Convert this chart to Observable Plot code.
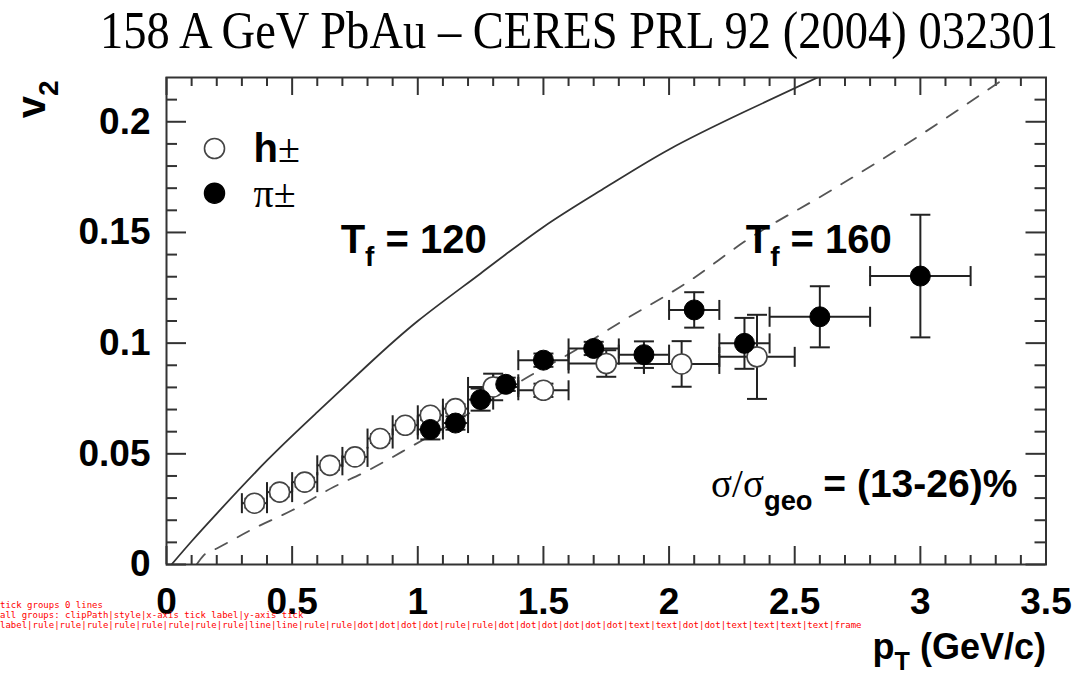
<!DOCTYPE html>
<html><head><meta charset="utf-8">
<script src="https://cdn.jsdelivr.net/npm/d3@7"></script>
<script src="https://cdn.jsdelivr.net/npm/@observablehq/plot@0.6"></script>
<style>
body{margin:0;background:#fff;}
#title{position:relative;height:58px;width:1080px;}
#title span{position:absolute;left:100px;top:5px;font:52px "Liberation Serif","Times New Roman",serif;line-height:52px;white-space:nowrap;transform:scaleX(0.895);transform-origin:0 0;color:#000;}
#dbg{position:absolute;left:0;top:600px;width:800px;font:9px monospace;white-space:pre-wrap;color:red;}
</style></head><body>
<div id="title"><span>158 A GeV PbAu – CERES PRL 92 (2004) 032301</span></div>
<div id="chart"></div>
<div id="dbg"></div>
<script>
// h± (open circles)
const hPt   = [0.35, 0.45, 0.55, 0.65, 0.75, 0.85, 0.95, 1.05, 1.15, 1.3, 1.5, 1.75, 2.05, 2.35];
const hV2   = [0.0277, 0.0327, 0.0372, 0.0448, 0.0486, 0.0569, 0.0629, 0.0674, 0.0704, 0.0802, 0.0787, 0.0908, 0.0906, 0.0938];
const hPtErr= [0.05, 0.05, 0.05, 0.05, 0.05, 0.05, 0.05, 0.05, 0.05, 0.1, 0.1, 0.15, 0.15, 0.15];
const hV2Err= [0.002, 0.002, 0.002, 0.002, 0.002, 0.002, 0.002, 0.002, 0.002, 0.006, 0.003, 0.006, 0.0103, 0.019];
// π± (filled circles)
const piPt   = [1.05, 1.15, 1.25, 1.35, 1.5, 1.7, 1.9, 2.1, 2.3, 2.6, 3.0];
const piV2   = [0.0610, 0.0639, 0.0745, 0.0814, 0.0923, 0.0976, 0.0948, 0.1150, 0.0999, 0.1119, 0.1303];
const piPtErr= [0.05, 0.05, 0.05, 0.05, 0.1, 0.1, 0.1, 0.1, 0.1, 0.2, 0.2];
const piV2Err= [0.0045, 0.003, 0.005, 0.003, 0.003, 0.003, 0.006, 0.008, 0.0115, 0.0138, 0.0277];
// hydro curves
const t120Pt = [0.02, 0.1, 0.2, 0.4, 0.6, 0.8, 1.0, 1.25, 1.5, 1.75, 2.0, 2.3, 2.6];
const t120V2 = [0, 0.0105, 0.023, 0.047, 0.0688, 0.090, 0.110, 0.1315, 0.1525, 0.1705, 0.1875, 0.2045, 0.2205];
const t160Pt = [0.12, 0.147, 0.2, 0.355, 0.5, 0.665, 0.785, 0.985, 1.2, 1.45, 1.6, 1.8, 2.08, 2.31, 2.645, 3.0, 3.34];
const t160V2 = [0, 0.004, 0.0072, 0.0167, 0.0245, 0.035, 0.0415, 0.054, 0.068, 0.0855, 0.095, 0.109, 0.128, 0.1466, 0.169, 0.194, 0.22];
// ticks
const xMajor = [0, 0.5, 1, 1.5, 2, 2.5, 3, 3.5];
const xMajorLabels = ["0", "0.5", "1", "1.5", "2", "2.5", "3", "3.5"];
const xMinor = [0.1,0.2,0.3,0.4,0.6,0.7,0.8,0.9,1.1,1.2,1.3,1.4,1.6,1.7,1.8,1.9,2.1,2.2,2.3,2.4,2.6,2.7,2.8,2.9,3.1,3.2,3.3,3.4];
const yMajor = [0, 0.05, 0.1, 0.15, 0.2];
const yMajorLabels = ["0", "0.05", "0.1", "0.15", "0.2"];
const yMinor = [0.01,0.02,0.03,0.04,0.06,0.07,0.08,0.09,0.11,0.12,0.13,0.14,0.16,0.17,0.18,0.19,0.21];
// texts
const legendLabels = ["h~{±}", "~{π±}"];
const curveLabels = ["T_{f} = 120", "T_{f} = 160"];
const curveLabelPt = [0.693, 2.305];
const curveLabelV2 = [0.1407, 0.1409];
const centralityLabel = ["~{σ/σ}_{geo} = (13-26)%"];
const centralityPt = [3.386];
const centralityV2 = [0.0305];
const xTitle = "p_{T} (GeV/c)";
const yTitle = "v_{2}";

const hData = hPt.map((x, i) => ({x, y: hV2[i], xe: hPtErr[i], ye: hV2Err[i]}));
const piData = piPt.map((x, i) => ({x, y: piV2[i], xe: piPtErr[i], ye: piV2Err[i]}));
const t120 = t120Pt.map((x, i) => ({x, y: t120V2[i]}));
const t160 = t160Pt.map((x, i) => ({x, y: t160V2[i]}));
const curveText = curveLabels.map((t, i) => ({t, x: curveLabelPt[i], y: curveLabelV2[i]}));
const centralityText = centralityLabel.map((t, i) => ({t, x: centralityPt[i], y: centralityV2[i]}));

// layout
const W = 1080, H = 616, mT = 19, mB = 110, mL = 166, mR = 34.5;
const xDomain = [0, 3.5], yDomain = [0, 0.22];
const frameW = W - mL - mR, frameH = H - mT - mB;
const xPerPx = (xDomain[1] - xDomain[0]) / frameW;
const yPerPx = (yDomain[1] - yDomain[0]) / frameH;

const vCap = {draw(ctx) { ctx.moveTo(0, -10); ctx.lineTo(0, 10); }};
const hCap = {draw(ctx) { ctx.moveTo(-10, 0); ctx.lineTo(10, 0); }};
const ink = "#222";
const axisInk = "#333";

function errorMarks(data) {
  return [
    Plot.ruleY(data, {y: "y", x1: d => d.x - d.xe, x2: d => d.x + d.xe, stroke: ink, strokeWidth: 2}),
    Plot.ruleX(data, {x: "x", y1: d => d.y - d.ye, y2: d => d.y + d.ye, stroke: ink, strokeWidth: 2}),
    Plot.dot(data, {x: d => d.x - d.xe, y: "y", symbol: vCap, stroke: ink, strokeWidth: 2, fill: "none"}),
    Plot.dot(data, {x: d => d.x + d.xe, y: "y", symbol: vCap, stroke: ink, strokeWidth: 2, fill: "none"}),
    Plot.dot(data, {x: "x", y: d => d.y - d.ye, symbol: hCap, stroke: ink, strokeWidth: 2, fill: "none"}),
    Plot.dot(data, {x: "x", y: d => d.y + d.ye, symbol: hCap, stroke: ink, strokeWidth: 2, fill: "none"})
  ];
}
function tickMarks() {
  const o = {stroke: axisInk, strokeWidth: 2, ariaLabel: "frame tick"};
  const xt = (vals, len) => [
    Plot.ruleX(vals, {x: d => d, y1: () => yDomain[0], y2: () => yDomain[0] + len * yPerPx, ...o}),
    Plot.ruleX(vals, {x: d => d, y1: () => yDomain[1] - len * yPerPx, y2: () => yDomain[1], ...o})
  ];
  const yt = (vals, len) => [
    Plot.ruleY(vals, {y: d => d, x1: () => xDomain[0], x2: () => xDomain[0] + len * xPerPx, ...o}),
    Plot.ruleY(vals, {y: d => d, x1: () => xDomain[1] - len * xPerPx, x2: () => xDomain[1], ...o})
  ];
  return [...xt(xMajor, 18), ...xt(xMinor, 9), ...yt(yMajor, 20), ...yt(yMinor, 11)];
}

const out = [];
const chart = Plot.plot({
  width: W,
  height: H,
  marginTop: mT,
  marginBottom: mB,
  marginLeft: mL,
  marginRight: mR,
  style: {fontFamily: "'Liberation Sans', Arial, Helvetica, sans-serif", background: "white", color: "black"},
  x: {domain: xDomain},
  y: {domain: yDomain},
  marks: [
    Plot.axisX(xMajor, {anchor: "bottom", tickSize: 0, tickPadding: 23, tickFormat: (d, i) => xMajorLabels[i], fontSize: 37, fontWeight: "bold", label: null}),
    Plot.axisY(yMajor, {anchor: "left", tickSize: 0, tickPadding: 16, tickFormat: (d, i) => yMajorLabels[i], fontSize: 37, fontWeight: "bold", label: null}),
    ...tickMarks(),
    Plot.line(t120, {x: "x", y: "y", curve: "natural", stroke: "#333", strokeWidth: 1.8}),
    Plot.line(t160, {x: "x", y: "y", curve: "monotone-x", stroke: "#555", strokeWidth: 1.8, strokeDasharray: "13,12"}),
    ...errorMarks(hData),
    ...errorMarks(piData),
    Plot.dot(hData, {x: "x", y: "y", r: 10, fill: "white", stroke: "#444", strokeWidth: 1.6}),
    Plot.dot(piData, {x: "x", y: "y", r: 10, fill: "black", stroke: "black", strokeWidth: 1}),
    Plot.text(curveText, {x: "x", y: "y", text: "t", textAnchor: "start", lineAnchor: "bottom", fontSize: 40, fontWeight: "bold", fill: "black"}),
    Plot.text(centralityText, {x: "x", y: "y", text: "t", textAnchor: "end", lineAnchor: "bottom", fontSize: 39, fontWeight: "bold", fill: "black"}),
    Plot.dot([legendLabels[0]], {frameAnchor: "top-left", dx: 48, dy: 71, r: 10, fill: "white", stroke: "#444", strokeWidth: 1.6}),
    Plot.dot([legendLabels[1]], {frameAnchor: "top-left", dx: 48, dy: 115.7, r: 10, fill: "black", stroke: "black"}),
    Plot.text([legendLabels[0]], {frameAnchor: "top-left", dx: 87, dy: 84.7, textAnchor: "start", lineAnchor: "bottom", fontSize: 40, fontWeight: "bold", fill: "black"}),
    Plot.text([legendLabels[1]], {frameAnchor: "top-left", dx: 87, dy: 129.7, textAnchor: "start", lineAnchor: "bottom", fontSize: 40, fontWeight: "bold", fill: "black"}),
    Plot.text([xTitle], {frameAnchor: "bottom-right", dx: 0, dy: 94, textAnchor: "end", lineAnchor: "bottom", fontSize: 36, fontWeight: "bold", fill: "black"}),
    Plot.text([yTitle], {frameAnchor: "top-left", dx: -122, dy: 3, rotate: -90, textAnchor: "end", lineAnchor: "bottom", fontSize: 40, fontWeight: "bold", fill: "black"}),
    Plot.frame({stroke: axisInk, strokeWidth: 2})
  ]
});

function richText(svg) {
  svg.querySelectorAll("text").forEach(t => {
    const s = t.textContent;
    if (!/[_~]\{/.test(s)) return;
    const holder = t.closest("[font-size]");
    const fs = parseFloat(holder ? holder.getAttribute("font-size") : 16);
    while (t.firstChild) t.removeChild(t.firstChild);
    let off = 0;
    const parts = s.match(/_\{[^}]*\}|~\{[^}]*\}|[^_~]+/g);
    for (const p of parts) {
      const ts = document.createElementNS("http://www.w3.org/2000/svg", "tspan");
      let target = 0;
      if (p.startsWith("_{")) {
        ts.textContent = p.slice(2, -1);
        ts.setAttribute("font-size", fs * 0.7);
        target = fs * 0.33;
      } else if (p.startsWith("~{")) {
        ts.textContent = p.slice(2, -1);
        ts.setAttribute("font-weight", "normal");
        ts.setAttribute("font-family", "'Liberation Serif', 'Times New Roman', serif");
      } else {
        ts.textContent = p;
      }
      if (target !== off) { ts.setAttribute("dy", target - off); off = target; }
      t.appendChild(ts);
    }
  });
}
richText(chart);
// clip the hydro curves at the frame top
const cp = document.createElementNS("http://www.w3.org/2000/svg", "clipPath");
cp.setAttribute("id", "frameclip");
const cr = document.createElementNS("http://www.w3.org/2000/svg", "rect");
cr.setAttribute("x", mL); cr.setAttribute("y", mT); cr.setAttribute("width", frameW); cr.setAttribute("height", frameH);
cp.appendChild(cr);
chart.insertBefore(cp, chart.firstChild);
chart.querySelectorAll('g[aria-label="line"]').forEach(g => g.setAttribute("clip-path", "url(#frameclip)"));
document.getElementById("chart").appendChild(chart);

const tg = chart.querySelectorAll('g[aria-label="frame tick"]');
out.push("tick groups " + tg.length + " lines " + Array.from(tg).map(g => g.children.length).join(","));
if (tg[0]) out.push(tg[0].outerHTML.slice(0, 300));
out.push("all groups: " + Array.from(chart.children).map(g => (g.getAttribute && g.getAttribute("aria-label")) || g.tagName).join("|"));
document.getElementById("dbg").textContent = out.join("\n");
</script>
</body></html>
